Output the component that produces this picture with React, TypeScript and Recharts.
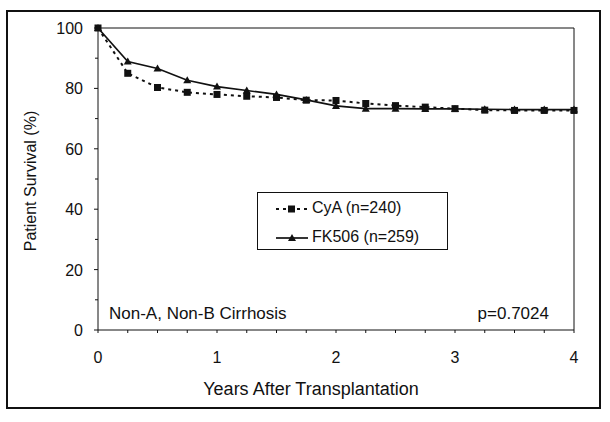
import { Customized, Line, LineChart, ReferenceLine, XAxis, YAxis } from "recharts";

// years after transplantation, sampled every quarter
const years = [0, 0.25, 0.5, 0.75, 1, 1.25, 1.5, 1.75, 2, 2.25, 2.5, 2.75, 3, 3.25, 3.5, 3.75, 4];
const cyaSurvival = [100, 85, 80.3, 78.7, 78, 77.4, 77, 76.1, 76, 75, 74.3, 73.8, 73.3, 72.8, 72.7, 72.7, 72.7];
const fkSurvival = [100, 88.9, 86.6, 82.7, 80.6, 79.3, 78, 76.2, 74.2, 73.3, 73.3, 73.2, 73.2, 73.1, 73, 73, 73];

const xTicks = [0, 0.25, 0.5, 0.75, 1, 1.25, 1.5, 1.75, 2, 2.25, 2.5, 2.75, 3, 3.25, 3.5, 3.75, 4];
const yTicks = [0, 10, 20, 30, 40, 50, 60, 70, 80, 90, 100];

const seriesNames = ["CyA (n=240)", "FK506 (n=259)"];

const rows = years.map((y, i) => ({ year: y, cya: cyaSurvival[i], fk: fkSurvival[i] }));

const FONT = '"Liberation Sans", Arial, Helvetica, sans-serif';

function SquareDot(props: { cx?: number; cy?: number }) {
  const { cx, cy } = props;
  if (cx == null || cy == null) return null;
  return <rect x={cx - 3.5} y={cy - 3.5} width={7} height={7} fill="#111" />;
}

function TriangleDot(props: { cx?: number; cy?: number }) {
  const { cx, cy } = props;
  if (cx == null || cy == null) return null;
  return <path d={`M${cx},${cy - 4} L${cx + 4},${cy + 3} L${cx - 4},${cy + 3} Z`} fill="#111" />;
}

function YTick(props: { x?: number; y?: number; payload?: { value?: number } }) {
  const { x = 0, y = 0, payload } = props;
  const v = payload?.value ?? 0;
  const major = v % 20 === 0;
  return (
    <g>
      <line x1={x - (major ? 4 : 3)} x2={x} y1={y} y2={y} stroke="#111" strokeWidth={1} />
      {major && (
        <text x={x - 15} y={y + 6} textAnchor="end" fontFamily={FONT} fontSize={16} fill="#111">
          {v}
        </text>
      )}
    </g>
  );
}

function XTick(props: { x?: number; y?: number; payload?: { value?: number } }) {
  const { x = 0, y = 0, payload } = props;
  const v = payload?.value ?? 0;
  const major = Number.isInteger(v);
  return (
    <g>
      <line x1={x} x2={x} y1={y} y2={y + 3} stroke="#111" strokeWidth={1} />
      {major && (
        <text x={x} y={y + 33} textAnchor="middle" fontFamily={FONT} fontSize={16} fill="#111">
          {v}
        </text>
      )}
    </g>
  );
}

function LegendBox() {
  return (
    <div
      style={{
        position: "absolute",
        left: 257,
        top: 192,
        width: 191,
        height: 58,
        boxSizing: "border-box",
        border: "1.5px solid #111",
        background: "#fff",
        fontFamily: FONT,
        fontSize: 16,
        color: "#111",
      }}
    >
      <svg width={60} height={58} style={{ position: "absolute", left: 0, top: 0 }}>
        <line x1={18} x2={50} y1={16} y2={16} stroke="#111" strokeWidth={2} strokeDasharray="3 4" />
        <rect x={30} y={12.5} width={7} height={7} fill="#111" />
        <line x1={18} x2={50} y1={45} y2={45} stroke="#111" strokeWidth={1.7} />
        <path d="M34,41 L38,48 L30,48 Z" fill="#111" />
      </svg>
      <div style={{ position: "absolute", left: 54, top: 6, whiteSpace: "nowrap" }}>{seriesNames[0]}</div>
      <div style={{ position: "absolute", left: 54, top: 35, whiteSpace: "nowrap" }}>{seriesNames[1]}</div>
    </div>
  );
}

function Annotations() {
  return (
    <g fontFamily={FONT} fill="#111">
      <text x={109} y={319} fontSize={17}>
        Non-A, Non-B Cirrhosis
      </text>
      <text x={549} y={319} fontSize={17} textAnchor="end">
        p=0.7024
      </text>
      <text x={311} y={395} fontSize={18} textAnchor="middle">
        Years After Transplantation
      </text>
      <text x={36} y={181} fontSize={16} textAnchor="middle" transform="rotate(-90 36 181)">
        Patient Survival (%)
      </text>
    </g>
  );
}

export default function App() {
  return (
    <div style={{ position: "absolute", left: 0, top: 0, width: 610, height: 422, background: "#fff" }}>
      <div
        style={{
          position: "absolute",
          left: 6,
          top: 10,
          width: 595,
          height: 399,
          boxSizing: "border-box",
          border: "2px solid #111",
        }}
      />
      <LineChart
        width={610}
        height={422}
        data={rows}
        margin={{ top: 28, right: 36, left: 38, bottom: 62 }}
        style={{ position: "absolute", left: 0, top: 0 }}
      >
        <XAxis
          dataKey="year"
          type="number"
          domain={[0, 4]}
          ticks={xTicks}
          interval={0}
          height={30}
          tickSize={0}
          tickMargin={0}
          tickLine={false}
          axisLine={{ stroke: "#111", strokeWidth: 1 }}
          tick={<XTick />}
        />
        <YAxis
          type="number"
          domain={[0, 100]}
          ticks={yTicks}
          interval={0}
          width={60}
          tickSize={0}
          tickMargin={0}
          tickLine={false}
          axisLine={{ stroke: "#111", strokeWidth: 1 }}
          tick={<YTick />}
        />
        <ReferenceLine y={100} stroke="#111" strokeWidth={1} />
        <ReferenceLine x={4} stroke="#111" strokeWidth={1} />
        <Line
          dataKey="cya"
          stroke="#111"
          strokeWidth={2}
          strokeDasharray="3 4"
          dot={<SquareDot />}
          activeDot={false}
          isAnimationActive={false}
        />
        <Line
          dataKey="fk"
          stroke="#111"
          strokeWidth={1.7}
          dot={<TriangleDot />}
          activeDot={false}
          isAnimationActive={false}
        />
        <Customized component={<Annotations />} />
      </LineChart>
      <LegendBox />
    </div>
  );
}
